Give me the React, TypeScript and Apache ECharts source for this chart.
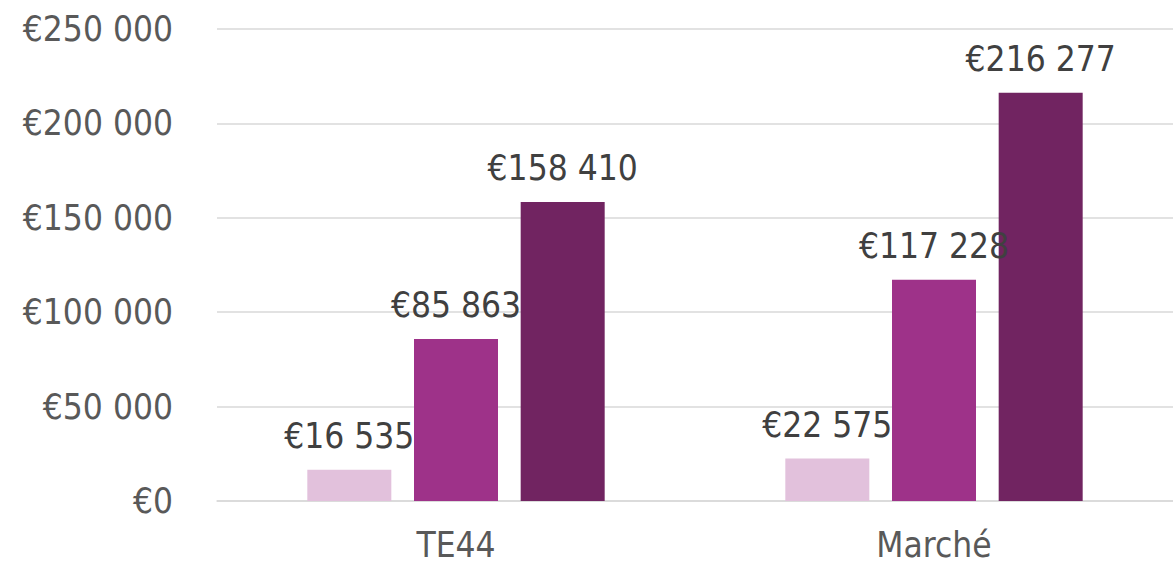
import React, { useEffect, useRef } from "react";
import * as echarts from "echarts";

const categories = ["TE44", "Marché"];
const seriesLight = [16535, 22575];
const seriesMid = [85863, 117228];
const seriesDark = [158410, 216277];
const colors = ["#E2C1DC", "#9E3289", "#712461"];

const FONT = '"DejaVu Sans Condensed", "DejaVu Sans", sans-serif';

function fmt(v: number): string {
  const s = Math.round(v).toString().replace(/\B(?=(\d{3})+(?!\d))/g, " ");
  return "€" + s;
}

export default function App() {
  const ref = useRef<HTMLDivElement>(null);
  useEffect(() => {
    document.body.style.margin = "0";
    const chart = echarts.init(ref.current!, null, { renderer: "svg" });
    const mkSeries = (data: number[], color: string) => ({
      type: "bar",
      data,
      barWidth: 84,
      barGap: "27%",
      itemStyle: { color },
      label: {
        show: true,
        position: "top",
        distance: 16,
        formatter: (p: any) => fmt(p.value),
        color: "#404040",
        fontSize: 35,
        fontFamily: FONT,
      },
    });
    chart.setOption({
      animation: false,
      grid: { left: 217, right: -4, top: 29, bottom: 62 },
      xAxis: {
        type: "category",
        data: categories,
        axisLine: { show: true, lineStyle: { color: "#D9D9D9", width: 1.5 } },
        axisTick: { show: false },
        axisLabel: { color: "#595959", fontSize: 35, fontFamily: FONT, margin: 26 },
      },
      yAxis: {
        type: "value",
        min: 0,
        max: 250000,
        interval: 50000,
        axisLine: { show: false },
        axisTick: { show: false },
        splitLine: { lineStyle: { color: "#D9D9D9", width: 1.5 } },
        axisLabel: {
          color: "#595959",
          fontSize: 35,
          fontFamily: FONT,
          margin: 44,
          formatter: (v: number) => fmt(v),
        },
      },
      series: [
        mkSeries(seriesLight, colors[0]),
        mkSeries(seriesMid, colors[1]),
        mkSeries(seriesDark, colors[2]),
      ],
    });
    return () => chart.dispose();
  }, []);
  return <div ref={ref} style={{ width: 1173, height: 563 }} />;
}
